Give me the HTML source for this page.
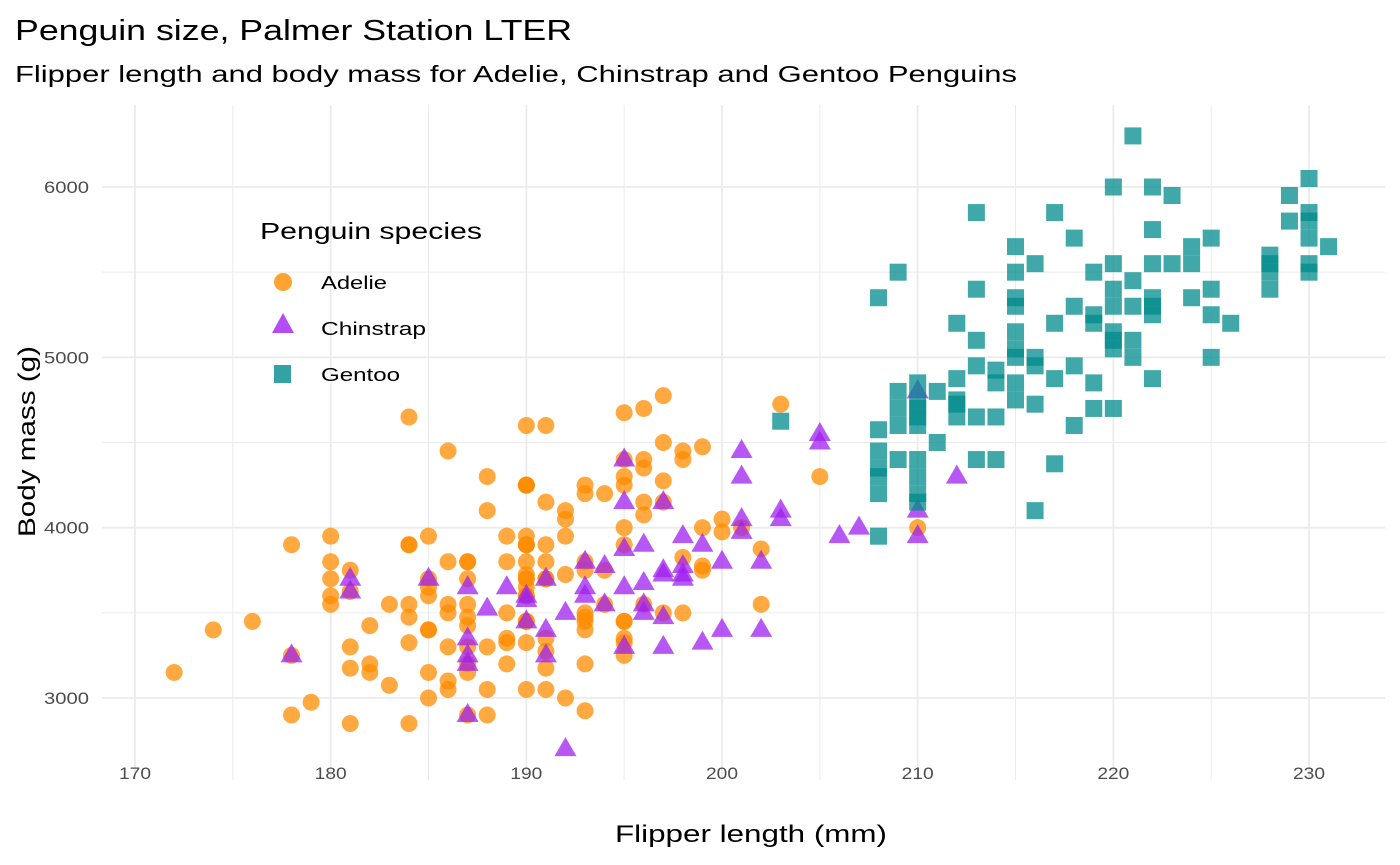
<!DOCTYPE html>
<html><head><meta charset="utf-8"><style>
body{margin:0;background:#fff;}
svg{display:block;font-family:"Liberation Sans",sans-serif;}
</style></head><body>
<svg id="s" width="1400" height="865" xmlns="http://www.w3.org/2000/svg">
<rect width="1400" height="865" fill="#fff"/>
<g id="grid"></g>
<g id="pts"></g>
<text x="15" y="40" font-size="29" textLength="557" lengthAdjust="spacingAndGlyphs" fill="#000">Penguin size, Palmer Station LTER</text>
<text x="15" y="82" font-size="23" textLength="1002" lengthAdjust="spacingAndGlyphs" fill="#000">Flipper length and body mass for Adelie, Chinstrap and Gentoo Penguins</text>
<g id="ticks" font-size="17" fill="#4d4d4d"></g>
<text x="615" y="842" font-size="24" textLength="272" lengthAdjust="spacingAndGlyphs" fill="#000">Flipper length (mm)</text>
<text transform="translate(35,537) rotate(-90)" font-size="24" textLength="191" lengthAdjust="spacingAndGlyphs" fill="#000">Body mass (g)</text>
<text x="260" y="239" font-size="23" textLength="222" lengthAdjust="spacingAndGlyphs" fill="#000">Penguin species</text>
<circle cx="283" cy="282" r="9" fill="#FF8C00" fill-opacity="0.8"/>
<polygon points="283,313 294,333 272,333" fill="#A020F0" fill-opacity="0.8"/>
<rect x="274" y="365" width="17" height="18" fill="#008B8B" fill-opacity="0.8"/>
<text x="321" y="289" font-size="18" textLength="66" lengthAdjust="spacingAndGlyphs">Adelie</text>
<text x="321" y="335" font-size="18" textLength="105" lengthAdjust="spacingAndGlyphs">Chinstrap</text>
<text x="321" y="381" font-size="18" textLength="79" lengthAdjust="spacingAndGlyphs">Gentoo</text>
</svg>
<script>
const NS="http://www.w3.org/2000/svg";
const X=v=>135+(v-170)*19.567, Y=v=>698-(v-3000)*0.17033;
const g=document.getElementById('grid'),t=document.getElementById('ticks'),p=document.getElementById('pts');
function el(par,n,a,txt){const e=document.createElementNS(NS,n);for(const k in a)e.setAttribute(k,a[k]);if(txt)e.textContent=txt;par.appendChild(e);return e;}
for(let v=175;v<=235;v+=10){const x=X(v);if(x<1385)el(g,'line',{x1:x,x2:x,y1:105,y2:780,stroke:'#ebebeb','stroke-width':1});}
for(let v=3500;v<=5500;v+=1000){el(g,'line',{x1:102,x2:1385,y1:Y(v),y2:Y(v),stroke:'#ebebeb','stroke-width':1});}
for(let v=170;v<=230;v+=10){const x=X(v);el(g,'line',{x1:x,x2:x,y1:105,y2:780,stroke:'#ebebeb','stroke-width':1.8});el(t,'text',{x:x-16,y:779,textLength:32,lengthAdjust:'spacingAndGlyphs'},String(v));}
for(let v=3000;v<=6000;v+=1000){const y=Y(v);el(g,'line',{x1:102,x2:1385,y1:y,y2:y,stroke:'#ebebeb','stroke-width':1.8});el(t,'text',{x:44,y:y+6,textLength:45,lengthAdjust:'spacingAndGlyphs'},String(v));}
const A=[[181,3750],[186,3800],[195,3250],[193,3450],[190,3650],[181,3625],[195,4675],[193,3475],[190,4250],[186,3300],[180,3700],[182,3200],[191,3800],[198,4400],[185,3700],[195,3450],[197,4500],[184,3325],[194,4200],[174,3400],[180,3600],[189,3800],[185,3950],[180,3800],[187,3800],[183,3550],[187,3200],[172,3150],[180,3950],[178,3250],[178,3900],[188,3300],[184,3900],[195,3325],[196,4150],[190,3950],[180,3550],[181,3300],[184,4650],[182,3150],[195,3900],[186,3100],[196,4400],[185,3000],[190,4600],[182,3425],[179,2975],[190,3450],[191,4150],[186,3500],[188,4300],[190,3450],[200,4050],[187,2900],[191,3700],[186,3550],[193,3800],[181,2850],[194,3750],[185,3150],[195,4400],[185,3600],[192,4050],[184,2850],[192,3950],[195,3350],[188,4100],[190,3050],[198,4450],[190,3600],[190,3900],[196,3550],[197,4150],[190,3700],[195,4250],[191,3700],[184,3900],[187,3550],[195,4000],[189,3200],[196,4700],[187,3800],[193,4200],[191,3350],[194,3550],[190,3800],[189,3500],[189,3950],[190,3600],[202,3550],[205,4300],[185,3400],[186,4450],[187,3300],[190,3700],[196,4350],[178,2900],[192,4100],[192,3725],[203,4725],[183,3075],[190,4250],[193,2925],[184,3550],[199,3750],[190,3900],[181,3175],[197,4775],[198,3825],[191,4600],[193,3200],[197,4275],[191,3900],[196,4075],[188,2900],[199,3775],[189,3350],[189,3325],[187,3150],[198,3500],[176,3450],[202,3875],[186,3050],[199,4000],[191,3275],[195,4300],[191,3050],[210,4000],[190,3325],[197,3500],[193,3500],[199,4475],[187,3425],[190,3900],[191,3175],[200,3975],[185,3400],[193,4250],[193,3400],[187,3475],[188,3050],[190,3725],[192,3000],[185,3650],[190,4250],[184,3475],[195,3450],[193,3750],[187,3700],[201,4000]];
const C=[[178,3250],[181,3700],[181,3625],[185,3700],[187,3350],[187,3250],[187,3200],[187,2900],[187,3650],[188,3525],[189,3650],[190,3450],[190,3575],[190,3600],[191,3700],[191,3400],[191,3250],[192,2700],[192,3500],[193,3800],[193,3650],[193,3600],[194,3550],[194,3775],[195,4400],[195,4150],[195,3875],[195,3650],[195,3300],[196,3900],[196,3550],[196,3500],[196,3675],[197,3725],[197,3750],[197,3300],[197,4150],[197,3475],[198,3950],[198,3700],[198,3775],[198,3725],[199,3900],[199,3325],[200,3800],[200,3400],[201,4050],[201,4450],[201,4300],[201,3975],[202,3800],[202,3400],[203,4100],[203,4050],[205,4550],[205,4500],[206,3950],[207,4000],[210,4800],[210,4100],[210,3950],[212,4300]];
const Graw={203:[4625],208:[4300,4200,4450,4575,4350,3950,5350],209:[4800,4700,4600,4400,5500],210:[4850,4700,4600,4400,4200,4150,4750,4300,4650],211:[4800,4500],212:[5200,4875,4725,4650,4750],213:[5850,5400,5100,4950,4650,4400],214:[4925,4850,4650,4400],215:[5650,5500,5350,5300,5150,5000,4850,4750,5050],216:[5550,5000,4950,4725,4100],217:[5850,5200,4875,4375],218:[5700,5300,4950,4600],219:[5500,5250,5200,4850,4700],220:[6000,5550,5400,5300,5100,5050,4700,5150],221:[6300,5450,5300,5100,5000],222:[6000,5750,5550,5350,5300,5250,4875],223:[5950,5550],224:[5650,5550,5350],225:[5700,5400,5250,5000],226:[5200],228:[5600,5550,5500,5400],229:[5950,5800],230:[6050,5850,5800,5700,5550,5500],231:[5650]};
A.forEach(([f,m])=>el(p,'circle',{cx:X(f),cy:Y(m),r:8.5,fill:'#FF8C00','fill-opacity':0.75}));
C.forEach(([f,m])=>{const x=X(f),y=Y(m);el(p,'polygon',{points:`${x},${y-12} ${x+11},${y+7} ${x-11},${y+7}`,fill:'#A020F0','fill-opacity':0.75});});
for(const f in Graw)Graw[f].forEach(m=>{const x=X(+f),y=Y(m);el(p,'rect',{x:x-8.5,y:y-8.5,width:17,height:17,fill:'#008B8B','fill-opacity':0.75});});
</script>
</body></html>
